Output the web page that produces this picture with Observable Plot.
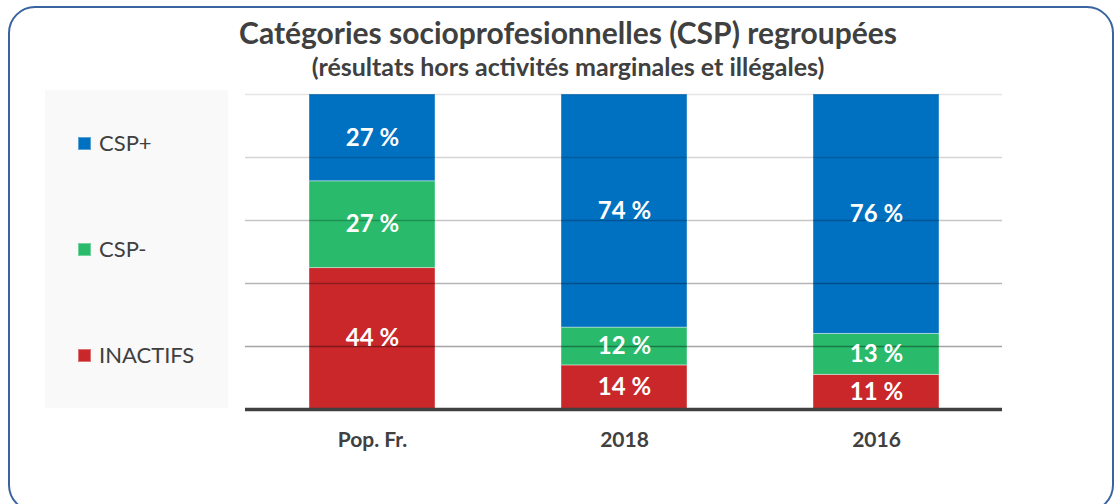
<!DOCTYPE html>
<html>
<head>
<meta charset="utf-8">
<script src="https://cdn.jsdelivr.net/npm/d3@7"></script>
<script src="https://cdn.jsdelivr.net/npm/@observablehq/plot@0.6"></script>
<style>
  html, body { margin: 0; padding: 0; background: #fff; }
  #wrap { position: relative; width: 1115px; height: 504px; overflow: hidden; font-family: Lato, "Open Sans", sans-serif; color: #404040; }
  #frame { position: absolute; left: 8px; top: 6px; width: 1102px; height: 502px; border: 2px solid #3a64a0; border-radius: 27px; pointer-events: none; }
  .title { position: absolute; left: 0; width: 1136px; text-align: center; font-weight: bold; line-height: 1; white-space: nowrap; }
  #legendBox { position: absolute; left: 45px; top: 90px; width: 183px; height: 318px; background: #f9f9f9; }
  .item { position: absolute; left: 78px; font-size: 22px; line-height: 1; white-space: nowrap; }
  .sw { position: absolute; left: 0; width: 13px; height: 13px; box-sizing: border-box; }
  .lab { position: absolute; left: 21px; }
</style>
</head>
<body>
<div id="wrap">
  <div id="legendBox"></div>
  <div id="chart" style="position:absolute;left:0;top:0;"></div>
  <div class="title" id="t1" style="top:17px;font-size:30px;">Catégories socioprofesionnelles (CSP) regroupées</div>
  <div class="title" id="t2" style="top:54px;font-size:25px;">(résultats hors activités marginales et illégales)</div>
  <div id="legend"></div>
  <div id="frame"></div>
</div>
<script>
// --- data ---
const groups = ["Pop. Fr.", "2018", "2016"];
const stackOrder = ["INACTIFS", "CSP-", "CSP+"];          // bottom to top
const legendOrder = ["CSP+", "CSP-", "INACTIFS"];         // top to bottom in legend
const inactifs = [44, 14, 11];
const cspMoins = [27, 12, 13];
const cspPlus  = [27, 74, 76];
const colors = {"CSP+": "#0070c0", "CSP-": "#29bb6b", "INACTIFS": "#c9272a"};
const gridTicks = [0.2, 0.4, 0.6, 0.8, 1.0];

const seriesValues = {"INACTIFS": inactifs, "CSP-": cspMoins, "CSP+": cspPlus};
const rows = [];
groups.forEach((g, i) => {
  stackOrder.forEach(c => rows.push({group: g, cat: c, value: seriesValues[c][i]}));
});

const stackOpts = {x: "group", y: "value", z: "cat", offset: "normalize", order: stackOrder};

const chart = Plot.plot({
  width: 1115,
  height: 504,
  marginTop: 94,
  marginBottom: 95,
  marginLeft: 245,
  marginRight: 113,
  style: {background: "transparent", fontFamily: "Lato, 'Open Sans', sans-serif"},
  x: {domain: groups, paddingInner: 0.5, paddingOuter: 0.25, axis: null, label: null},
  y: {domain: [0, 1], axis: null},
  color: {domain: legendOrder, range: legendOrder.map(c => colors[c])},
  marks: [
    Plot.barY(rows, Plot.stackY({...stackOpts, fill: "cat", stroke: "white", strokeOpacity: 0.4, strokeWidth: 1, inset: 0})),
    Plot.ruleY(gridTicks, {stroke: "black", strokeOpacity: d => 0.1 + (1 - d) * 0.32, strokeWidth: 1.6}),
    Plot.ruleY([0], {stroke: "#404040", strokeWidth: 3.5}),
    Plot.text(rows, Plot.stackY({...stackOpts, text: d => `${d.value} %`, fill: "white", fontSize: 24, fontWeight: "bold"})),
    Plot.axisX({tickSize: 0, tickPadding: 23, fontSize: 21, fontWeight: "bold", color: "#404040", label: null})
  ]
});
document.getElementById("chart").appendChild(chart);

// legend built from the categories
const legend = document.getElementById("legend");
const legendY = [143, 249, 355];
legendOrder.forEach((c, i) => {
  const it = document.createElement("div");
  it.className = "item";
  it.style.top = (legendY[i] - 11) + "px";
  const sw = document.createElement("div");
  sw.className = "sw";
  sw.style.background = colors[c];
  sw.style.border = "1px solid rgba(255,255,255,0.35)";
  sw.style.top = "5px";
  const lab = document.createElement("div");
  lab.className = "lab";
  lab.textContent = c;
  it.appendChild(sw); it.appendChild(lab);
  legend.appendChild(it);
});
</script>
</body>
</html>
